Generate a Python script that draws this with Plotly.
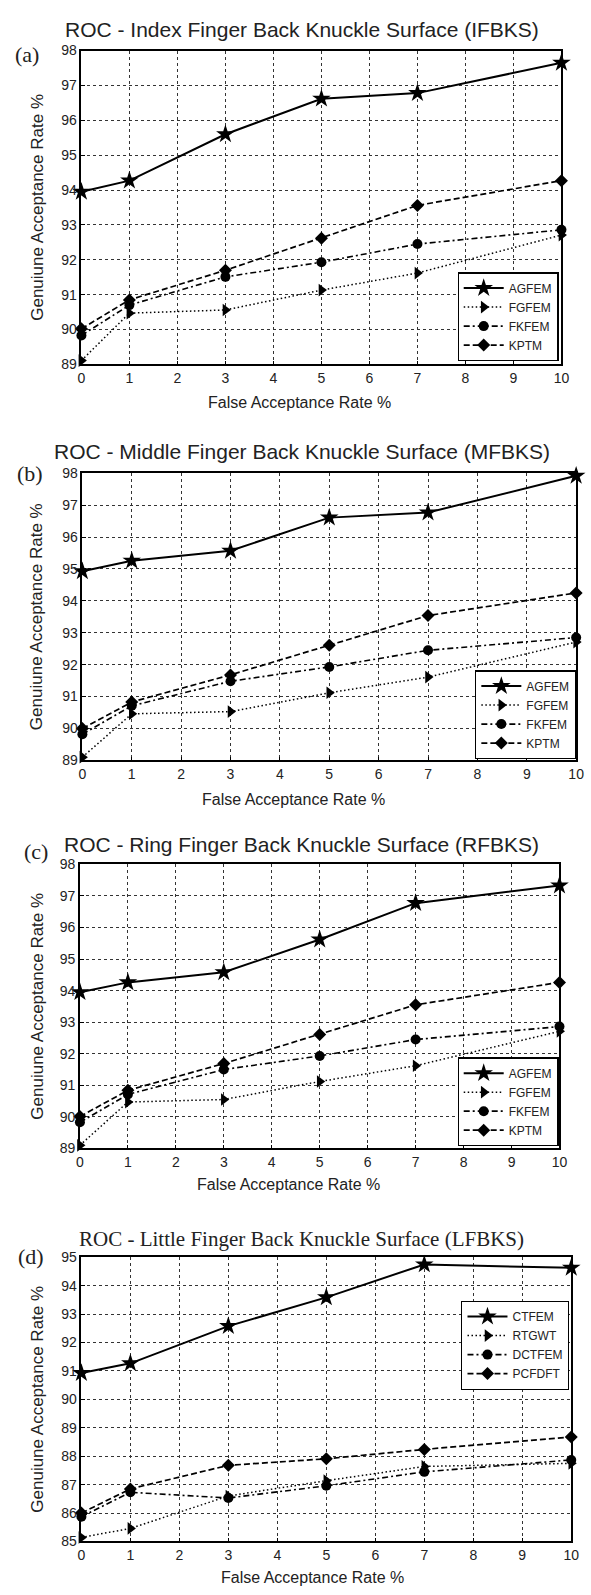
import plotly.graph_objects as go

W, H = 591, 1595

fa_rate = [0, 1, 3, 5, 7, 10]
x_tick_vals = list(range(0, 11))

# Panel (a) IFBKS
a_names = ["AGFEM", "FGFEM", "FKFEM", "KPTM"]
a_agfem = [93.95, 94.27, 95.60, 96.62, 96.78, 97.65]
a_fgfem = [89.11, 90.47, 90.56, 91.13, 91.62, 92.71]
a_fkfem = [89.83, 90.70, 91.51, 91.93, 92.45, 92.86]
a_kptm = [90.02, 90.85, 91.70, 92.62, 93.56, 94.27]

# Panel (b) MFBKS
b_names = ["AGFEM", "FGFEM", "FKFEM", "KPTM"]
b_agfem = [94.93, 95.26, 95.57, 96.61, 96.77, 97.92]
b_fgfem = [89.10, 90.46, 90.53, 91.12, 91.61, 92.71]
b_fkfem = [89.82, 90.71, 91.48, 91.93, 92.45, 92.85]
b_kptm = [90.00, 90.83, 91.68, 92.61, 93.54, 94.25]

# Panel (c) RFBKS
c_names = ["AGFEM", "FGFEM", "FKFEM", "KPTM"]
c_agfem = [93.95, 94.26, 94.58, 95.62, 96.77, 97.33]
c_fgfem = [89.10, 90.47, 90.55, 91.12, 91.62, 92.71]
c_fkfem = [89.83, 90.71, 91.50, 91.93, 92.45, 92.86]
c_kptm = [90.01, 90.84, 91.69, 92.61, 93.55, 94.26]

# Panel (d) LFBKS
d_names = ["CTFEM", "RTGWT", "DCTFEM", "PCFDFT"]
d_ctfem = [90.93, 91.27, 92.58, 93.59, 94.75, 94.63]
d_rtgwt = [85.14, 85.46, 86.60, 87.14, 87.64, 87.75]
d_dctfem = [85.87, 86.73, 86.53, 86.96, 87.45, 87.87]
d_pcfdft = [86.00, 86.85, 87.68, 87.91, 88.24, 88.68]

titles = [
    "ROC - Index Finger Back Knuckle Surface (IFBKS)",
    "ROC - Middle Finger Back Knuckle Surface (MFBKS)",
    "ROC - Ring Finger Back Knuckle Surface (RFBKS)",
    "ROC - Little Finger Back Knuckle Surface (LFBKS)",
]
panel_tags = ["(a)", "(b)", "(c)", "(d)"]
y_ranges = [[89, 98], [89, 98], [89, 98], [85, 95]]
x_title = "False Acceptance Rate %"
y_title = "Genuiune Acceptance Rate %"

series = [
    (a_names, [a_agfem, a_fgfem, a_fkfem, a_kptm]),
    (b_names, [b_agfem, b_fgfem, b_fkfem, b_kptm]),
    (c_names, [c_agfem, c_fgfem, c_fkfem, c_kptm]),
    (d_names, [d_ctfem, d_rtgwt, d_dctfem, d_pcfdft]),
]

# layout in pixels (left, right, top, bottom)
boxes = [(79, 569, 43, 360), (80, 584, 470, 760), (77.5, 567, 865, 1152), (79, 579, 1262, 1549)]
title_pos = [(304, 22), (304, 448), (304, 845), (304, 1243)]
tag_pos = [(23, 47), (27, 470), (33, 852), (28, 1261)]
xlab_pos = [(302, 398), (295, 800), (290, 1188), (315, 1585)]
legend_corner = [(566, 357), (584, 759), (566, 1150), (577, 1306)]
legend_anchor = ["bottom", "bottom", "bottom", "top"]

styles = [
    dict(dash="solid", width=2.0, symbol="star", size=14),
    dict(dash="1.5px,2.5px", width=1.5, symbol="triangle-right", size=11),
    dict(dash="6px,3px,2px,3px", width=1.6, symbol="circle", size=10),
    dict(dash="6px,3px", width=1.7, symbol="diamond", size=10),
]

SANS = "Liberation Sans, Arial, sans-serif"
SERIF = "Liberation Serif, Times New Roman, serif"

fig = go.Figure()
annotations = []
layout = dict(
    width=W, height=H, margin=dict(l=0, r=0, t=0, b=0),
    paper_bgcolor="white", plot_bgcolor="white", showlegend=True,
)


def px(xp):
    return xp / W


def py(yp):
    return 1 - yp / H


for i in range(4):
    n = "" if i == 0 else str(i + 1)
    L, R, T, B = boxes[i]
    names, vals = series[i]
    leg = "legend" if i == 0 else f"legend{i + 1}"
    for k in range(4):
        st = styles[k]
        fig.add_trace(go.Scatter(
            x=fa_rate, y=vals[k], name=names[k], mode="lines+markers",
            xaxis=f"x{n}", yaxis=f"y{n}", legend=leg, cliponaxis=False,
            line=dict(color="black", dash=st["dash"], width=st["width"]),
            marker=dict(symbol=st["symbol"], size=st["size"], color="black"),
        ))
    common = dict(
        showgrid=True, gridcolor="#333", gridwidth=0.8, griddash="3px,3px",
        showline=True, linecolor="black", linewidth=1.6, mirror=True,
        ticks="inside", ticklen=4, tickcolor="black", zeroline=False,
        tickfont=dict(family=SANS, size=14, color="#222"),
    )
    layout[f"xaxis{n}"] = dict(
        domain=[px(L), px(R)], anchor=f"y{n}", range=[0, 10],
        tickmode="array", tickvals=x_tick_vals, **common,
    )
    layout[f"yaxis{n}"] = dict(
        domain=[py(B), py(T)], anchor=f"x{n}", range=y_ranges[i],
        dtick=1, **common,
    )
    lx, ly = legend_corner[i]
    layout[leg] = dict(
        x=px(lx), y=py(ly), xanchor="right", yanchor=legend_anchor[i],
        bgcolor="white", bordercolor="black", borderwidth=1.2,
        font=dict(family=SANS, size=12, color="#222"),
        tracegroupgap=0, itemwidth=40,
    )
    tfam = SERIF if i == 3 else SANS
    tx, ty = title_pos[i]
    annotations.append(dict(text=titles[i], x=px(tx), y=py(ty), xref="paper", yref="paper",
                            showarrow=False, xanchor="center", yanchor="middle",
                            font=dict(family=tfam, size=21, color="#222")))
    gx, gy = tag_pos[i]
    annotations.append(dict(text=panel_tags[i], x=px(gx), y=py(gy), xref="paper", yref="paper",
                            showarrow=False, xanchor="center", yanchor="middle",
                            font=dict(family=SERIF, size=22, color="#222")))
    xx, xy = xlab_pos[i]
    annotations.append(dict(text=x_title, x=px(xx), y=py(xy), xref="paper", yref="paper",
                            showarrow=False, xanchor="center", yanchor="middle",
                            font=dict(family=SANS, size=16, color="#222")))
    annotations.append(dict(text=y_title, x=px(34), y=py((T + B) / 2), xref="paper", yref="paper",
                            showarrow=False, xanchor="center", yanchor="middle", textangle=-90,
                            font=dict(family=SANS, size=17, color="#222")))

layout["annotations"] = annotations
fig.update_layout(**layout)
fig.write_html(
    "out.html",
    config={"displayModeBar": False},
    post_script="document.body.style.margin='0';document.body.style.overflow='hidden';",
)
